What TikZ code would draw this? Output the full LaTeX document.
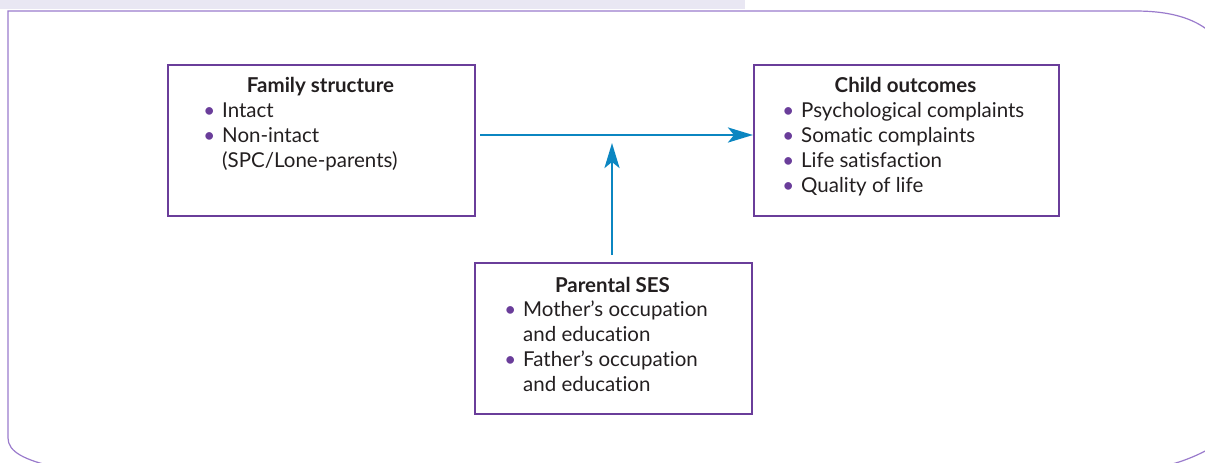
\documentclass[tikz,border=0pt]{standalone}
\usepackage{fontspec}
\setmainfont{Lato}[Ligatures=NoCommon]
\usetikzlibrary{arrows.meta}
\definecolor{boxpurple}{HTML}{6A3D9A}
\definecolor{framepurple}{HTML}{9A7BCC}
\definecolor{barlav}{HTML}{E9E7F3}
\definecolor{arrblue}{HTML}{0B86C1}
\definecolor{txt}{HTML}{231F20}
\newcommand\bul{\llap{\textcolor{boxpurple}{\textbullet}\hspace{7pt}}}
\tikzset{
  boxst/.style={draw=boxpurple, line width=1.9pt, anchor=north west, inner sep=0pt},
  ttl/.style={anchor=base, inner sep=0pt, font=\fontsize{20.5}{24}\selectfont\bfseries, text=txt},
  itm/.style={anchor=base west, inner sep=0pt, font=\fontsize{20.5}{24}\selectfont, text=txt},
  arr/.style={draw=arrblue, line width=2.8pt, -{Stealth[length=25pt,width=15pt,inset=6pt]}},
}
\begin{document}
\begin{tikzpicture}[x=1pt,y=-1pt]
\useasboundingbox (0,0) rectangle (1205,463);
% top bar
\fill[barlav] (0,0) rectangle (745,9);
% frame
\draw[framepurple, line width=1.2pt]
  (1232,62) .. controls (1216,26) and (1186,11) .. (1135,11) -- (8,11) -- (8,438)
  .. controls (8,452) and (25,460) .. (55,467) -- (1160,467)
  .. controls (1188,461) and (1205,452) .. (1228,438);
% boxes
\node[boxst, minimum width=307pt, minimum height=151pt] (fs) at (167,64) {};
\node[boxst, minimum width=305pt, minimum height=151pt] (co) at (753,64) {};
\node[boxst, minimum width=277pt, minimum height=151pt] (ps) at (474,262) {};
% family structure
\node[ttl] (fst) at (320.5,92) {Family structure};
\node[itm] (fs1) at (222,117) {\bul Intact};
\node[itm] (fs2) at (222,142) {\bul Non-intact};
\node[itm] (fs3) at (222,167) {(SPC/Lone-parents)};
% child outcomes
\node[ttl] (cot) at (905.5,92) {Child outcomes};
\node[itm] (co1) at (801,117) {\bul Psychological complaints};
\node[itm] (co2) at (801,142) {\bul Somatic complaints};
\node[itm] (co3) at (801,167) {\bul Life satisfaction};
\node[itm] (co4) at (801,192) {\bul Quality of life};
% parental SES
\node[ttl] (pst) at (612.5,292) {Parental SES};
\node[itm] (ps1) at (523,316) {\bul Mother’s occupation};
\node[itm] (ps2) at (523,341) {and education};
\node[itm] (ps3) at (523,366) {\bul Father’s occupation};
\node[itm] (ps4) at (523,391) {and education};
% arrows
\coordinate (hs) at (480,135);
\coordinate (vt) at (612,143);
\coordinate (vb) at (612,255);
\draw[arr] (hs) -- (hs -| co.west);
\draw[arr] (vb) -- (vt);
\end{tikzpicture}
\end{document}
